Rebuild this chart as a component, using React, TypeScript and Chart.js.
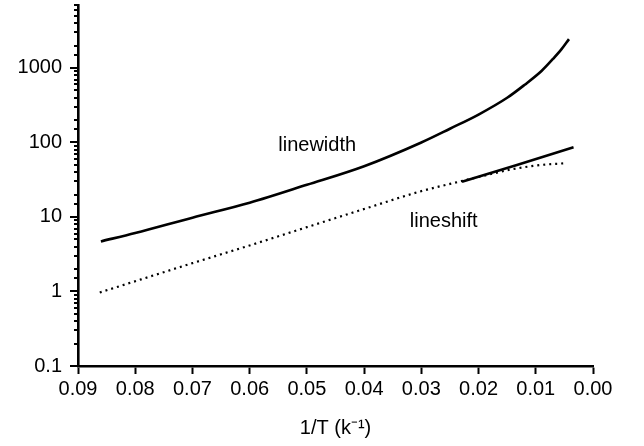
import React, { useEffect, useRef } from "react";
import { Chart, registerables } from "chart.js";

Chart.register(...registerables);

// 1/T values (k^-1) and y values
const linewidthX = [0.086, 0.08, 0.07, 0.06, 0.05, 0.04, 0.03, 0.025, 0.02, 0.015, 0.012, 0.009, 0.007, 0.0055, 0.0042];
const linewidthY = [4.7, 6.1, 9.8, 15.5, 27, 48, 100, 153, 237, 398, 590, 910, 1320, 1790, 2440];

const lineshiftSolidX = [0.0229, 0.0133, 0.0034];
const lineshiftSolidY = [29.8, 49.7, 86];

const lineshiftDotX = [0.0862, 0.07, 0.06, 0.05, 0.04, 0.0302, 0.0232, 0.018, 0.0139, 0.0092, 0.005];
const lineshiftDotY = [0.97, 2.4, 4.15, 7.3, 12.8, 22, 30, 37.5, 44, 49.8, 52.6];

const yTickLabels = [0.1, 1, 10, 100, 1000];
const xTickStep = 0.01;

const labelTexts = ["linewidth", "lineshift"];
const labelX = [0.0482, 0.0261];
const labelY = [90, 8.7];

const FONT = '"Liberation Sans", Arial, Helvetica, sans-serif';
const FS = 20;

function pts(xs: number[], ys: number[]) {
  return xs.map((x, i) => ({ x, y: ys[i] }));
}

export default function App() {
  const ref = useRef<HTMLCanvasElement | null>(null);

  useEffect(() => {
    document.body.style.margin = "0";
    document.body.style.overflow = "hidden";
    const canvas = ref.current!;

    const minorTicks = {
      id: "minorTicks",
      afterDraw(chart: any) {
        const ctx = chart.ctx;
        const y = chart.scales.y;
        ctx.save();
        ctx.strokeStyle = "#000";
        ctx.lineWidth = 2;
        const left = chart.chartArea.left;
        y.ticks.forEach((t: any) => {
          const v = t.value;
          const lg = Math.log10(v);
          const major = Math.abs(lg - Math.round(lg)) < 1e-6;
          const py = Math.round(y.getPixelForValue(v));
          const len = major ? 8 : 4;
          ctx.beginPath();
          ctx.moveTo(left - len, py);
          ctx.lineTo(left, py);
          ctx.stroke();
        });
        ctx.restore();
      },
    };

    const textLabels = {
      id: "textLabels",
      afterDatasetsDraw(chart: any) {
        const ctx = chart.ctx;
        ctx.save();
        ctx.fillStyle = "#000";
        ctx.font = `${FS}px ${FONT}`;
        ctx.textAlign = "center";
        ctx.textBaseline = "middle";
        labelTexts.forEach((t, i) => {
          ctx.fillText(t, chart.scales.x.getPixelForValue(labelX[i]), chart.scales.y.getPixelForValue(labelY[i]));
        });
        ctx.restore();
      },
    };

    const chart = new Chart(canvas, {
      type: "line",
      data: {
        datasets: [
          {
            label: "linewidth",
            data: pts(linewidthX, linewidthY),
            borderColor: "#000",
            borderWidth: 2.6,
            pointRadius: 0,
            cubicInterpolationMode: "monotone",
          },
          {
            label: "lineshift",
            data: pts(lineshiftSolidX, lineshiftSolidY),
            borderColor: "#000",
            borderWidth: 2.6,
            pointRadius: 0,
          },
          {
            label: "lineshift (dotted)",
            data: pts(lineshiftDotX, lineshiftDotY),
            borderColor: "#000",
            borderWidth: 2.2,
            borderDash: [2, 4],
            pointRadius: 0,
            cubicInterpolationMode: "monotone",
          },
        ],
      },
      options: {
        animation: false,
        responsive: false,
        devicePixelRatio: 1,
        layout: { padding: { top: 5, right: 51, left: 0, bottom: 0 } },
        plugins: { legend: { display: false }, tooltip: { enabled: false } },
        scales: {
          x: {
            type: "linear",
            reverse: true,
            min: 0,
            max: 0.09,
            afterFit: (s: any) => {
              s.height = 80;
            },
            ticks: {
              stepSize: xTickStep,
              color: "#000",
              font: { family: FONT, size: FS },
              padding: 3,
              maxRotation: 0,
              callback: (v: any) => Number(v).toFixed(2),
            },
            grid: {
              drawOnChartArea: false,
              drawTicks: true,
              tickLength: 8,
              tickWidth: 2,
              tickColor: "#000",
            },
            border: { display: true, color: "#000", width: 2.6 },
            title: {
              display: true,
              text: "1/T (k⁻¹)",
              color: "#000",
              font: { family: FONT, size: FS },
              padding: { top: 4, bottom: 6 },
            },
          },
          y: {
            type: "logarithmic",
            min: 0.1,
            max: 7000,
            afterFit: (s: any) => {
              s.width = 78;
              s.paddingTop = 0;
              s.paddingBottom = 0;
            },
            ticks: {
              color: "#000",
              autoSkip: false,
              font: { family: FONT, size: FS },
              padding: 8,
              callback: (v: any) => {
                const n = Number(v);
                const hit = yTickLabels.find((t) => Math.abs(t - n) / t < 1e-6);
                return hit !== undefined ? String(hit) : "";
              },
            },
            grid: {
              drawOnChartArea: false,
              drawTicks: true,
              tickLength: 8,
              tickColor: "rgba(0,0,0,0)",
            },
            border: { display: true, color: "#000", width: 2.6 },
          },
        },
      },
      plugins: [minorTicks, textLabels],
    } as any);

    return () => chart.destroy();
  }, []);

  return <canvas ref={ref} width={644} height={446} style={{ display: "block", width: 644, height: 446 }} />;
}
